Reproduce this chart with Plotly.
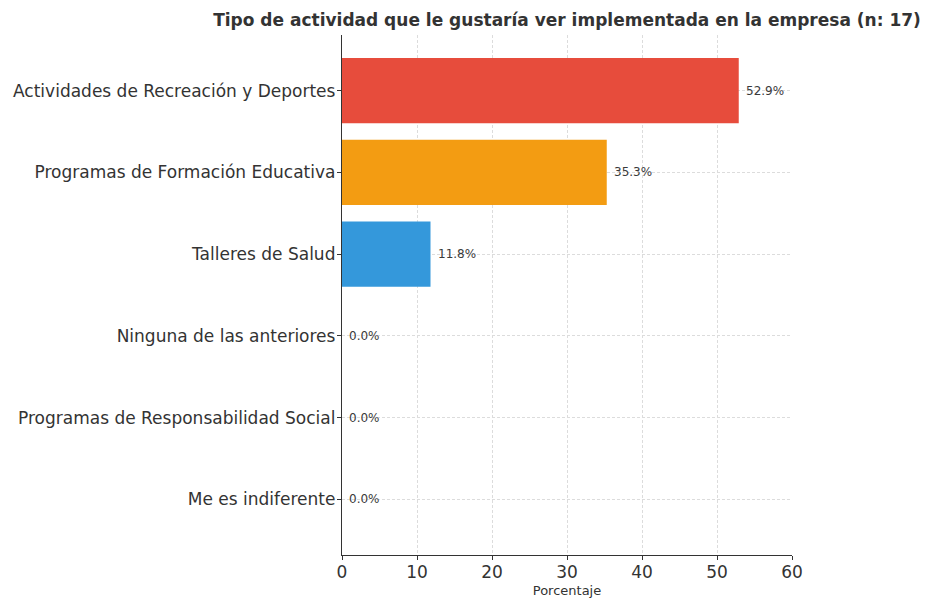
import plotly.graph_objects as go

# Survey results: preferred activity type (n = 17)
categories = [
    "Actividades de Recreación y Deportes",
    "Programas de Formación Educativa",
    "Talleres de Salud",
    "Ninguna de las anteriores",
    "Programas de Responsabilidad Social",
    "Me es indiferente",
]
percentages = [52.9, 35.3, 11.8, 0.0, 0.0, 0.0]
bar_colors = ["#E74C3C", "#F39C12", "#3498DB", "#2ECC71", "#9B59B6", "#95A5A6"]
x_ticks = [0, 10, 20, 30, 40, 50, 60]
title_text = "Tipo de actividad que le gustaría ver implementada en la empresa (n: 17)"
x_title = "Porcentaje"

FONT = "DejaVu Sans"
INK = "#333333"
GRID = "#DCDCDC"

fig = go.Figure()
fig.add_trace(go.Bar(
    y=list(range(len(categories))),
    x=percentages,
    orientation="h",
    width=0.8,
    marker=dict(color=bar_colors, line=dict(width=0)),
    hoverinfo="skip",
))

# Value labels just right of each bar end
for i, v in enumerate(percentages):
    fig.add_annotation(
        x=v, y=i, xref="x", yref="y",
        text=f"{v:.1f}%",
        showarrow=False,
        xanchor="left", yanchor="middle",
        xshift=5,
        font=dict(family=FONT, size=12, color="#3a3a3a"),
    )

fig.update_layout(
    width=926, height=598,
    margin=dict(l=342, r=134, t=35, b=43, autoexpand=False),
    paper_bgcolor="white",
    plot_bgcolor="white",
    showlegend=False,
    font=dict(family=FONT, color=INK),
    title=dict(
        text=f"<b>{title_text}</b>",
        x=0.5, xref="paper", xanchor="center",
        y=1 - 20 / 598, yref="container", yanchor="middle",
        font=dict(family=FONT, size=17, color=INK),
    ),
    xaxis=dict(
        range=[0, 60],
        tickvals=x_ticks,
        ticktext=[str(t) for t in x_ticks],
        ticks="outside", ticklen=4, tickwidth=1, tickcolor=INK,
        tickfont=dict(family=FONT, size=17, color=INK),
        ticklabelstandoff=-3,
        showline=True, linecolor=INK, linewidth=1.3,
        showgrid=True, gridcolor=GRID, griddash="3px,2px", gridwidth=1,
        zeroline=False,
        automargin=False,
        title=dict(text=x_title, font=dict(family=FONT, size=13, color=INK), standoff=8),
    ),
    yaxis=dict(
        range=[len(categories) - 1 + 0.68, -0.68],
        tickvals=list(range(len(categories))),
        ticktext=categories,
        ticks="outside", ticklen=4, tickwidth=1, tickcolor=INK,
        tickfont=dict(family=FONT, size=17, color=INK),
        ticklabelstandoff=-2,
        showline=True, linecolor=INK, linewidth=1.3,
        showgrid=True, gridcolor=GRID, griddash="3px,2px", gridwidth=1,
        zeroline=False,
        automargin=False,
    ),
)

fig.write_html("out.html")
